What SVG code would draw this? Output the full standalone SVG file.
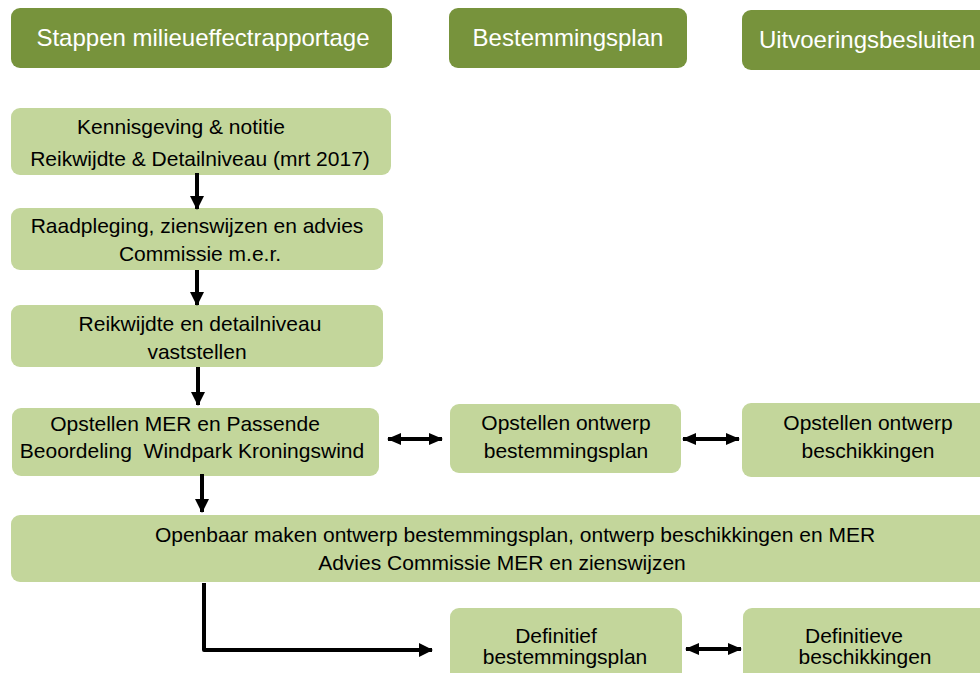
<svg xmlns="http://www.w3.org/2000/svg" width="980" height="673" viewBox="0 0 980 673">
<defs>
<style>
.hdr{fill:#77933C;}
.box{fill:#C3D69B;}
.ht{font-family:"Liberation Sans",Arial,sans-serif;font-size:24px;fill:#FFFFFF;text-anchor:middle;}
.bt{font-family:"Liberation Sans",Arial,sans-serif;font-size:21px;fill:#000000;text-anchor:middle;}
.ln{stroke:#000;stroke-width:4;fill:none;}
.dl{stroke:#000;stroke-width:4;fill:none;}
</style>
<marker id="ah" markerUnits="userSpaceOnUse" markerWidth="14" markerHeight="14" refX="13" refY="7" orient="auto">
<path d="M0,0 L14,7 L0,14 Z" fill="#000"/>
</marker>
<marker id="ahs" markerUnits="userSpaceOnUse" markerWidth="14" markerHeight="14" refX="13" refY="7" orient="auto-start-reverse">
<path d="M0,1 L14,7 L0,13 Z" fill="#000"/>
</marker>
</defs>
<rect width="980" height="673" fill="#FFFFFF"/>

<g id="h1"><rect class="hdr" x="11" y="8" width="381" height="60" rx="9"/><text class="ht" x="203" y="46">Stappen milieueffectrapportage</text></g>
<g id="h2"><rect class="hdr" x="449" y="8" width="238" height="60" rx="9"/><text class="ht" x="568" y="46">Bestemmingsplan</text></g>
<g id="h3"><rect class="hdr" x="742" y="10" width="260" height="60" rx="9"/><text class="ht" x="867" y="48">Uitvoeringsbesluiten</text></g>

<g id="s1"><rect class="box" x="11" y="108" width="380" height="67" rx="9"/><text class="bt" x="181" y="134">Kennisgeving &amp; notitie</text><text class="bt" x="200" y="166">Reikwijdte &amp; Detailniveau (mrt 2017)</text></g>
<g id="s2"><rect class="box" x="11" y="208" width="372" height="62" rx="9"/><text class="bt" x="197" y="233">Raadpleging, zienswijzen en advies</text><text class="bt" x="200" y="261">Commissie m.e.r.</text></g>
<g id="s3"><rect class="box" x="11" y="305" width="372" height="62" rx="9"/><text class="bt" x="200" y="331">Reikwijdte en detailniveau</text><text class="bt" x="197" y="359">vaststellen</text></g>
<g id="s4"><rect class="box" x="12" y="408" width="367" height="68" rx="9"/><text class="bt" x="185" y="431">Opstellen MER en Passende</text><text class="bt" x="192" y="458" xml:space="preserve">Beoordeling  Windpark Kroningswind</text></g>
<g id="b1"><rect class="box" x="450" y="404" width="231" height="69" rx="9"/><text class="bt" x="566" y="430">Opstellen ontwerp</text><text class="bt" x="566" y="458">bestemmingsplan</text></g>
<g id="u1"><rect class="box" x="742" y="403" width="260" height="74" rx="9"/><text class="bt" x="868" y="430">Opstellen ontwerp</text><text class="bt" x="868" y="458">beschikkingen</text></g>
<g id="s5"><rect class="box" x="11" y="515" width="991" height="67" rx="9"/><text class="bt" x="515" y="542">Openbaar maken ontwerp bestemmingsplan, ontwerp beschikkingen en MER</text><text class="bt" x="502" y="570">Advies Commissie MER en zienswijzen</text></g>
<g id="b2"><rect class="box" x="450" y="608" width="232" height="80" rx="9"/><text class="bt" x="556" y="643">Definitief</text><text class="bt" x="565" y="664">bestemmingsplan</text></g>
<g id="u2"><rect class="box" x="743" y="608" width="260" height="80" rx="9"/><text class="bt" x="854" y="643">Definitieve</text><text class="bt" x="865" y="664">beschikkingen</text></g>

<g id="connectors">
<line class="ln" x1="197" y1="173" x2="197" y2="209" marker-end="url(#ah)"/>
<line class="ln" x1="197" y1="270" x2="197" y2="305" marker-end="url(#ah)"/>
<line class="ln" x1="198" y1="367" x2="198" y2="405" marker-end="url(#ah)"/>
<line class="ln" x1="202" y1="474" x2="202" y2="512" marker-end="url(#ah)"/>
<path class="ln" d="M204,583 L204,650 L432,650" stroke-linejoin="round" marker-end="url(#ah)"/>
<line class="dl" x1="388" y1="439" x2="442" y2="439" marker-start="url(#ahs)" marker-end="url(#ahs)"/>
<line class="dl" x1="683" y1="439" x2="739" y2="439" marker-start="url(#ahs)" marker-end="url(#ahs)"/>
<line class="dl" x1="686" y1="649" x2="741" y2="649" marker-start="url(#ahs)" marker-end="url(#ahs)"/>
</g>
</svg>
